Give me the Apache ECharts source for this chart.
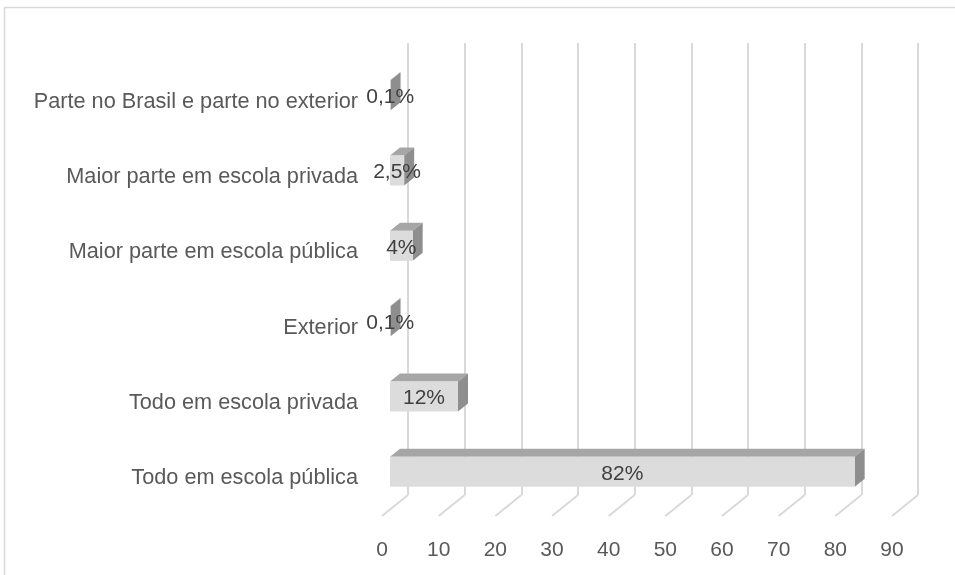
<!DOCTYPE html>
<html>
<head>
<meta charset="utf-8">
<script src="https://cdn.jsdelivr.net/npm/echarts@6/dist/echarts.min.js"></script>
<style>html,body{margin:0;padding:0;background:#fff}#c{width:955px;height:575px}</style>
</head>
<body>
<div id="c"></div>
<script>
var categories = ["Todo em escola pública", "Todo em escola privada", "Exterior", "Maior parte em escola pública", "Maior parte em escola privada", "Parte no Brasil e parte no exterior"];
var values = [82, 12, 0.1, 4, 2.5, 0.1];
var xTicks = [0, 10, 20, 30, 40, 50, 60, 70, 80, 90];

var FONT = "Liberation Sans";
var DX = -26, DY = 21;       // floor depth (back -> front)
var BX = -18, BY = 14.5;     // bar front-face offset from back plane
var TX = 10, TY = -8;        // bar depth (front -> back)
var BH = 30;

var chart = echarts.init(document.getElementById('c'));
chart.setOption({
  animation: false,
  backgroundColor: '#fff',
  graphic: [{
    type: 'rect', silent: true, z: -10,
    shape: { x: 4.5, y: 7.5, width: 2000, height: 2000 },
    style: { fill: 'none', stroke: '#d9d9d9', lineWidth: 1.5 }
  }],
  grid: [
    { left: 408, right: 37, top: 43, bottom: 80 },
    { left: 382, right: 63, top: 64, bottom: 59 }
  ],
  xAxis: [{
    type: 'value', min: 0, max: 90, interval: 10, gridIndex: 0,
    axisLine: { show: false }, axisTick: { show: false },
    splitLine: { show: true, lineStyle: { color: '#d9d9d9', width: 2 } },
    axisLabel: { margin: 45, color: '#595959', fontFamily: FONT, fontSize: 21, padding: [0, 52, 0, 0] }
  }, {
    type: 'value', min: 0, max: 90, interval: 10, gridIndex: 1, show: false
  }],
  yAxis: [{
    type: 'category', data: categories, gridIndex: 0,
    axisLine: { show: false }, axisTick: { show: false }, splitLine: { show: false },
    axisLabel: { show: false }
  }, {
    type: 'category', data: categories, gridIndex: 1,
    axisLine: { show: false }, axisTick: { show: false }, splitLine: { show: false },
    axisLabel: { margin: 24, color: '#595959', fontFamily: FONT, fontSize: 21.7 }
  }],
  series: [{
    type: 'custom',
    data: xTicks.map(function (t) { return [t, 0]; }),
    encode: { x: 0, y: 1 },
    silent: true, z: 1,
    renderItem: function (params, api) {
      var p = api.coord([api.value(0), 0]);
      var cs = params.coordSys;
      var yb = cs.y + cs.height;
      return {
        type: 'line',
        shape: { x1: p[0], y1: yb, x2: p[0] + DX, y2: yb + DY },
        style: { stroke: '#d9d9d9', lineWidth: 2 }
      };
    }
  }, {
    type: 'custom',
    data: values.map(function (v, i) { return [v, i]; }),
    encode: { x: 0, y: 1 },
    silent: true, z: 5,
    renderItem: function (params, api) {
      var v = api.value(0), i = api.value(1);
      var p0 = api.coord([0, i]);
      var p1 = api.coord([v, i]);
      var x0 = p0[0] + BX, x1 = p1[0] + BX;
      var cy = p0[1] + BY;
      var yt = cy - BH / 2, yb = cy + BH / 2;
      var label = String(v).replace('.', ',') + '%';
      return {
        type: 'group',
        children: [
          { type: 'polygon', shape: { points: [[x0, yt], [x1, yt], [x1 + TX, yt + TY], [x0 + TX, yt + TY]] },
            style: { fill: '#a6a6a6' } },
          { type: 'polygon', shape: { points: [[x1, yt], [x1 + TX, yt + TY], [x1 + TX, yb + TY], [x1, yb]] },
            style: { fill: '#8e8e8e' } },
          { type: 'rect', shape: { x: x0, y: yt, width: Math.max(x1 - x0, 0.5), height: BH },
            style: { fill: '#dcdcdc' } },
          { type: 'text', x: (x0 + x1) / 2, y: cy + 2,
            style: { text: label, fill: '#404040', font: '21px "' + FONT + '"', align: 'center', verticalAlign: 'middle' } }
        ]
      };
    }
  }]
});
</script>
</body>
</html>
